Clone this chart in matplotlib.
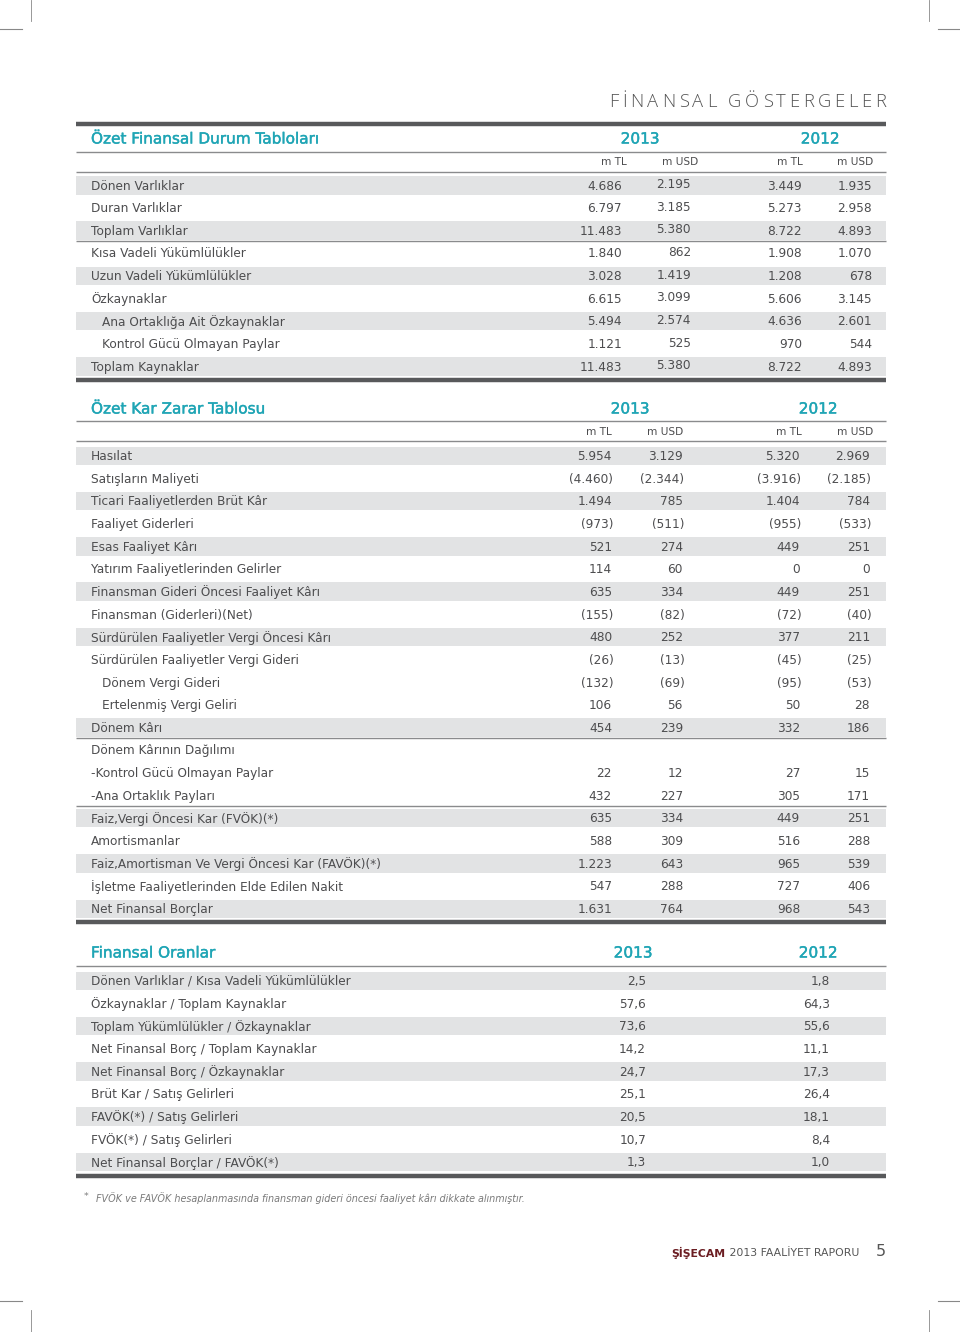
import matplotlib
matplotlib.use("Agg")
import matplotlib.pyplot as plt
import matplotlib.patheffects as pe
from matplotlib.patches import Rectangle

# ---------------- data ----------------
page_title = "FİNANSAL GÖSTERGELER"

s1_title = "Özet Finansal Durum Tabloları"
s1_years = ["2013", "2012"]
s1_units = ["m TL", "m USD", "m TL", "m USD"]
s1_labels = ["Dönen Varlıklar", "Duran Varlıklar", "Toplam Varlıklar",
             "Kısa Vadeli Yükümlülükler", "Uzun Vadeli Yükümlülükler", "Özkaynaklar",
             "Ana Ortaklığa Ait Özkaynaklar", "Kontrol Gücü Olmayan Paylar",
             "Toplam Kaynaklar"]
s1_indent = [0, 0, 0, 0, 0, 0, 1, 1, 0]
s1_tl_2013 = ["4.686", "6.797", "11.483", "1.840", "3.028", "6.615", "5.494", "1.121", "11.483"]
s1_usd_2013 = ["2.195", "3.185", "5.380", "862", "1.419", "3.099", "2.574", "525", "5.380"]
s1_tl_2012 = ["3.449", "5.273", "8.722", "1.908", "1.208", "5.606", "4.636", "970", "8.722"]
s1_usd_2012 = ["1.935", "2.958", "4.893", "1.070", "678", "3.145", "2.601", "544", "4.893"]
s1_band = [1, 0, 1, 0, 1, 0, 1, 0, 1]
s1_rule_after = [2]

s2_title = "Özet Kar Zarar Tablosu"
s2_years = ["2013", "2012"]
s2_units = ["m TL", "m USD", "m TL", "m USD"]
s2_labels = ["Hasılat", "Satışların Maliyeti", "Ticari Faaliyetlerden Brüt Kâr",
             "Faaliyet Giderleri", "Esas Faaliyet Kârı", "Yatırım Faaliyetlerinden Gelirler",
             "Finansman Gideri Öncesi Faaliyet Kârı", "Finansman (Giderleri)(Net)",
             "Sürdürülen Faaliyetler Vergi Öncesi Kârı", "Sürdürülen Faaliyetler Vergi Gideri",
             "Dönem Vergi Gideri", "Ertelenmiş Vergi Geliri", "Dönem Kârı",
             "Dönem Kârının Dağılımı", "-Kontrol Gücü Olmayan Paylar", "-Ana Ortaklık Payları",
             "Faiz,Vergi Öncesi Kar (FVÖK)(*)", "Amortismanlar",
             "Faiz,Amortisman Ve Vergi Öncesi Kar (FAVÖK)(*)",
             "İşletme Faaliyetlerinden Elde Edilen Nakit", "Net Finansal Borçlar"]
s2_indent = [0, 0, 0, 0, 0, 0, 0, 0, 0, 0, 1, 1, 0, 0, 0, 0, 0, 0, 0, 0, 0]
s2_tl_2013 = ["5.954", "(4.460)", "1.494", "(973)", "521", "114", "635", "(155)", "480",
              "(26)", "(132)", "106", "454", "", "22", "432", "635", "588", "1.223", "547", "1.631"]
s2_usd_2013 = ["3.129", "(2.344)", "785", "(511)", "274", "60", "334", "(82)", "252",
               "(13)", "(69)", "56", "239", "", "12", "227", "334", "309", "643", "288", "764"]
s2_tl_2012 = ["5.320", "(3.916)", "1.404", "(955)", "449", "0", "449", "(72)", "377",
              "(45)", "(95)", "50", "332", "", "27", "305", "449", "516", "965", "727", "968"]
s2_usd_2012 = ["2.969", "(2.185)", "784", "(533)", "251", "0", "251", "(40)", "211",
               "(25)", "(53)", "28", "186", "", "15", "171", "251", "288", "539", "406", "543"]
s2_band = [1, 0, 1, 0, 1, 0, 1, 0, 1, 0, 0, 0, 1, 0, 0, 0, 1, 0, 1, 0, 1]
s2_rule_after = [12, 15]

s3_title = "Finansal Oranlar"
s3_years = ["2013", "2012"]
s3_labels = ["Dönen Varlıklar / Kısa Vadeli Yükümlülükler", "Özkaynaklar / Toplam Kaynaklar",
             "Toplam Yükümlülükler / Özkaynaklar", "Net Finansal Borç / Toplam Kaynaklar",
             "Net Finansal Borç / Özkaynaklar", "Brüt Kar / Satış Gelirleri",
             "FAVÖK(*) / Satış Gelirleri", "FVÖK(*) / Satış Gelirleri",
             "Net Finansal Borçlar / FAVÖK(*)"]
s3_2013 = ["2,5", "57,6", "73,6", "14,2", "24,7", "25,1", "20,5", "10,7", "1,3"]
s3_2012 = ["1,8", "64,3", "55,6", "11,1", "17,3", "26,4", "18,1", "8,4", "1,0"]
s3_band = [1, 0, 1, 0, 1, 0, 1, 0, 1]

footnote_mark = "*"
footnote = "FVÖK ve FAVÖK hesaplanmasında finansman gideri öncesi faaliyet kârı dikkate alınmıştır."
footer_brand = "ŞİŞECAM"
footer_text = " 2013 FAALİYET RAPORU"
page_no = "5"

# ---------------- style ----------------
FONT = "DejaVu Sans"
TEAL = "#1fa5b5"
TXT = "#4d4d4f"
BAND = "#e2e3e4"
THICK = "#58595b"
THIN = "#8a8b8d"
L, R = 76, 886
STEP = 22.65
FS = 8.75
HFS = 11.0
BOLDISH = [pe.withStroke(linewidth=0.3, foreground=TEAL)]

fig = plt.figure(figsize=(9.6, 13.32), dpi=100)
ax = fig.add_axes([0, 0, 1, 1])
ax.set_xlim(0, 960)
ax.set_ylim(1332, 0)
ax.axis("off")


def hline(y, lw, color, x0=L, x1=R):
    ax.plot([x0, x1], [y, y], color=color, lw=lw, solid_capstyle="butt")


def txt(x, y, s, ha="left", size=FS, color=TXT, **kw):
    return ax.text(x, y, s, ha=ha, va="center", fontsize=size, color=color, family=FONT, **kw)


def head(x, y, s, ha="left"):
    return txt(x, y, s, ha=ha, size=HFS, color=TEAL, path_effects=BOLDISH)


def band(y):
    ax.add_patch(Rectangle((L, y - 10), R - L, 18.5, facecolor=BAND, edgecolor="none", zorder=0))


# crop marks
for x in (31, 929):
    ax.plot([x, x], [0, 21], color="#888888", lw=0.6)
    ax.plot([x, x], [1310, 1332], color="#888888", lw=0.6)
for (x0, x1) in ((0, 22), (938, 960)):
    ax.plot([x0, x1], [29, 29], color="#888888", lw=0.8)
    ax.plot([x0, x1], [1301, 1301], color="#888888", lw=0.8)

# page title with letter spacing (placed right to left)
renderer = fig.canvas.get_renderer()
xr = 886
spacing = 3.6
for ch in reversed(page_title):
    t = ax.text(xr, 102, ch, ha="right", va="center", fontsize=13.2, color="#555555",
                family="Open Sans", fontweight="light")
    w = t.get_window_extent(renderer).width
    xr -= w + spacing

# ---------- section 1 ----------
hline(124, 3.2, THICK)
head(91, 139, s1_title)
head(640, 139, s1_years[0], ha="center")
head(820, 139, s1_years[1], ha="center")
hline(152, 1.0, THIN)
ucols1 = [627, 698, 803, 873]
for x, u in zip(ucols1, s1_units):
    txt(x, 162, u, ha="right", size=7.6)
hline(172, 1.0, THIN)
vcols1 = [622, 691, 802, 872]
y0 = 186
for i, lab in enumerate(s1_labels):
    y = y0 + i * STEP
    if s1_band[i]:
        band(y)
    txt(91 + 11 * s1_indent[i], y, lab)
    for x, col in zip(vcols1, (s1_tl_2013, s1_usd_2013, s1_tl_2012, s1_usd_2012)):
        txt(x, y - (1.5 if col is s1_usd_2013 else 0), col[i], ha="right")
    if i in s1_rule_after:
        hline(y + 9.5, 1.0, THIN)
hline(380, 3.2, THICK)

# ---------- section 2 ----------
head(91, 409, s2_title)
head(630, 409, s2_years[0], ha="center")
head(818, 409, s2_years[1], ha="center")
hline(421, 1.0, THIN)
ucols2 = [612, 683, 802, 873]
for x, u in zip(ucols2, s2_units):
    txt(x, 432, u, ha="right", size=7.6)
hline(441, 1.0, THIN)
vcols2 = [612, 683, 800, 870]
y0 = 456.5
for i, lab in enumerate(s2_labels):
    y = y0 + i * STEP
    if s2_band[i]:
        band(y)
    txt(91 + 11 * s2_indent[i], y, lab)
    for x, col in zip(vcols2, (s2_tl_2013, s2_usd_2013, s2_tl_2012, s2_usd_2012)):
        v = col[i]
        if v.startswith("("):
            txt(x + 1.5, y, v, ha="right")
        else:
            txt(x, y, v, ha="right")
    if i in s2_rule_after:
        hline(y + 9.5, 1.0, THIN)
hline(922, 3.2, THICK)

# ---------- section 3 ----------
head(91, 953, s3_title)
head(633, 953, s3_years[0], ha="center")
head(818, 953, s3_years[1], ha="center")
hline(966, 1.0, THIN)
y0 = 981.5
for i, lab in enumerate(s3_labels):
    y = y0 + i * STEP
    if s3_band[i]:
        band(y)
    txt(91, y, lab)
    txt(646, y, s3_2013[i], ha="right")
    txt(830, y, s3_2012[i], ha="right")
hline(1176, 3.2, THICK)

# footnote
txt(84, 1197, footnote_mark, size=6.8, color="#7a7a7a")
txt(96, 1198, footnote, size=6.9, color="#7a7a7a", style="italic")

# footer
t2 = ax.text(859, 1253, footer_text, ha="right", va="center", fontsize=7.8, color="#555555",
             family=FONT)
w2 = t2.get_window_extent(renderer).width
ax.text(859 - w2, 1253, footer_brand, ha="right", va="center", fontsize=7.8, color="#6b1d22",
        family=FONT, fontweight="bold")
ax.text(886, 1251, page_no, ha="right", va="center", fontsize=11.5, color="#555555",
        family=FONT)

fig.savefig("out.png", dpi=100)
